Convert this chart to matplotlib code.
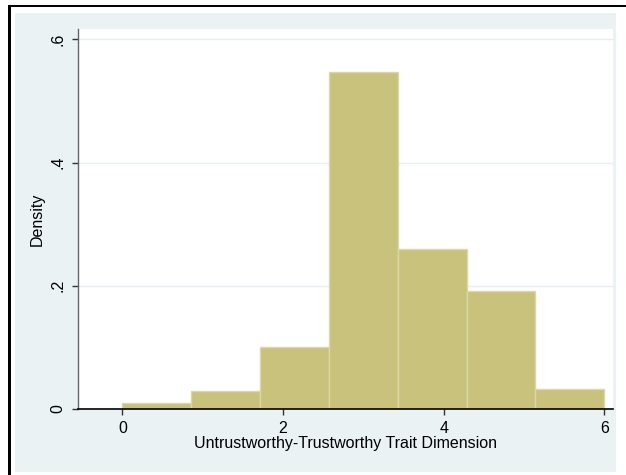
import matplotlib
matplotlib.use("Agg")
import matplotlib.pyplot as plt
from matplotlib.patches import Rectangle
import numpy as np

# histogram bins (7 equal bins from 0 to 6) and densities
bin_edges = np.linspace(0, 6, 8)
densities = [0.010, 0.029, 0.100, 0.547, 0.260, 0.191, 0.032]

x_ticks = [0, 2, 4, 6]
y_ticks = [0, 0.2, 0.4, 0.6]
y_ticklabels = ["0", ".2", ".4", ".6"]

plt.rcParams['font.family'] = ['Liberation Sans', 'DejaVu Sans']

W, H = 626, 475
fig = plt.figure(figsize=(W / 100, H / 100), dpi=100)
fig.patch.set_facecolor('white')


def px_rect(x0, y0, x1, y1, **kw):
    # rectangle in pixel coords measured from top-left
    return Rectangle((x0 / W, 1 - y1 / H), (x1 - x0) / W, (y1 - y0) / H,
                     transform=fig.transFigure, **kw)


# stata-like light bluish background and black frame
fig.patches.append(px_rect(15, 13, 616, 472, facecolor='#eaf2f3', edgecolor='none', zorder=0))
fig.patches.append(px_rect(8, 5, 626, 7, facecolor='black', edgecolor='none', zorder=1))
fig.patches.append(px_rect(8, 5, 11, 475, facecolor='black', edgecolor='none', zorder=1))

ax = fig.add_axes([77.5 / W, 1 - 409 / H, (613 - 77.5) / W, (409 - 29) / H])
ax.set_zorder(5)
ax.set_facecolor('white')

widths = np.diff(bin_edges)
ax.bar(bin_edges[:-1], densities, width=widths, align='edge',
       color='#c9c27c', edgecolor='#dcd7a6', linewidth=1, zorder=3)

ax.set_xlim(-0.56, 6.108)
ax.set_ylim(0, 0.617)

for y in y_ticks[1:]:
    ax.axhline(y, color='#e6eef1', linewidth=1, zorder=1)

ax.set_xticks(x_ticks)
ax.set_xticklabels([str(t) for t in x_ticks], fontsize=11.5)
ax.set_yticks(y_ticks)
ax.set_yticklabels(y_ticklabels, fontsize=11.5, rotation=90, va='center')
ax.tick_params(direction='out', length=4.5, width=1, color='#333333', pad=4)

for side in ['top', 'right']:
    ax.spines[side].set_visible(False)
ax.spines['left'].set_color('#666666')
ax.spines['left'].set_linewidth(1)
ax.spines['bottom'].set_color('black')
ax.spines['bottom'].set_linewidth(1.2)
ax.spines['bottom'].set_zorder(4)

ax.set_xlabel("Untrustworthy-Trustworthy Trait Dimension", fontsize=11.5, labelpad=0)
ax.set_ylabel("Density", fontsize=11.5, labelpad=4)

fig.savefig("out.png", dpi=100)
